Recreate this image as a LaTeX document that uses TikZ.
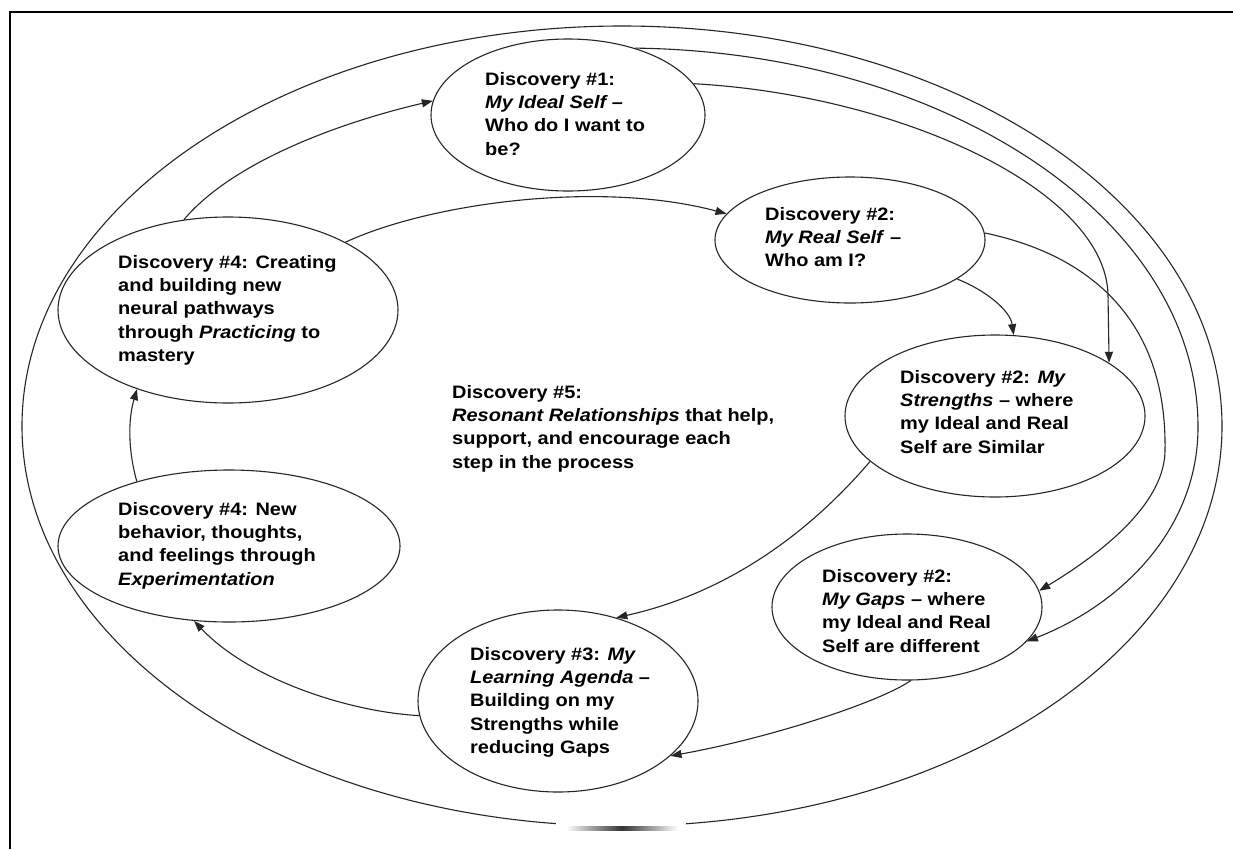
\documentclass[tikz,border=0pt]{standalone}
\usepackage{fontspec}
\setmainfont{Liberation Sans}[FakeStretch=1.11]
\usetikzlibrary{shapes.geometric,arrows.meta}
\tikzset{
  disc/.style={ellipse, draw=black!85, line width=1.1pt, inner sep=0pt},
  txt/.style={anchor=base west, inner sep=0pt, text=black,
    font=\fontsize{18}{23.4}\selectfont\bfseries},
  conn/.style={draw=black!85, line width=1.1pt, -{Triangle[length=11pt,width=8pt]}},
  frameline/.style={line width=2pt, draw=black},
}
\begin{document}
\begin{tikzpicture}[x=1pt,y=-1pt]
\useasboundingbox (0,0) rectangle (1233,849);
\fill[white] (0,0) rectangle (1233,849);
\draw[frameline] (10,849) -- (10,12) -- (1233,12);

% outer ellipse
\node[disc, minimum width=1200pt, minimum height=800pt] (outer) at (622,426) {};

% discovery ellipses
\node[disc, minimum width=274pt, minimum height=152pt] (e1) at (568,115) {};
\node[disc, minimum width=270pt, minimum height=126pt] (e2) at (850,240) {};
\node[disc, minimum width=300pt, minimum height=162pt] (e3) at (995,416) {};
\node[disc, minimum width=270pt, minimum height=146pt] (e4) at (907,607) {};
\node[disc, minimum width=280pt, minimum height=182pt] (e5) at (558,701) {};
\node[disc, minimum width=342pt, minimum height=152pt] (e6) at (229,546) {};
\node[disc, minimum width=340pt, minimum height=186pt] (e7) at (228,310) {};

% texts
\node[txt] (t1) at (485,85) {\vtop{\hbox{Discovery \#1:}\hbox{\itshape My Ideal Self –}\hbox{Who do I want to}\hbox{be?}}};
\node[txt] (t2) at (765,220) {\vtop{\hbox{Discovery \#2:}\hbox{\textit{My Real Self} –}\hbox{Who am I?}}};
\node[txt] (t3) at (900,383) {\vtop{\hbox{Discovery \#2: \textit{My}}\hbox{\textit{Strengths} – where}\hbox{my Ideal and Real}\hbox{Self are Similar}}};
\node[txt] (t4) at (822,582) {\vtop{\hbox{Discovery \#2:}\hbox{\textit{My Gaps} – where}\hbox{my Ideal and Real}\hbox{Self are different}}};
\node[txt] (t5) at (470,660) {\vtop{\hbox{Discovery \#3: \textit{My}}\hbox{\textit{Learning Agenda} –}\hbox{Building on my}\hbox{Strengths while}\hbox{reducing Gaps}}};
\node[txt] (t6) at (118,515) {\vtop{\hbox{Discovery \#4: New}\hbox{behavior, thoughts,}\hbox{and feelings through}\hbox{\textit{Experimentation}}}};
\node[txt] (t7) at (118,268) {\vtop{\hbox{Discovery \#4: Creating}\hbox{and building new}\hbox{neural pathways}\hbox{through \textit{Practicing} to}\hbox{mastery}}};
\node[txt] (t8) at (452,398) {\vtop{\hbox{Discovery \#5:}\hbox{\textit{Resonant Relationships} that help,}\hbox{support, and encourage each}\hbox{step in the process}}};

% connectors
\draw[conn] (e7.116) .. controls (230,165) and (330,125) .. (e1.174);
\draw[conn] (e7.30) .. controls (430,203) and (600,180) .. (e2.168);
\draw[conn] (e2.-20) .. controls (985,290) and (1010,310) .. (e3.77);
\coordinate (a1) at (1108,295);
\draw[conn] (e1.14) .. controls (900,95) and (1106,190) .. (a1) -- (e3.25);
\coordinate (c1) at (1165,450);
\draw[conn] (e2.3) .. controls (1090,255) and (1167,320) .. (c1) .. controls (1165,500) and (1110,548) .. (e4.7);
\coordinate (b1) at (1198,427);
\draw[conn] (e1.45) .. controls (945,52) and (1198,218) .. (b1) .. controls (1198,530) and (1120,605) .. (e4.-16);
\draw[conn] (e3.200) .. controls (820,520) and (740,590) .. (e5.55);
\draw[conn] (e4.-87) .. controls (880,702) and (770,738) .. (e5.-26);
\draw[conn] (e5.186) .. controls (350,712) and (250,680) .. (e6.245);
\draw[conn] (e6.145) .. controls (128,450) and (128,420) .. (e7.221);

% scan artefact at the bottom of the outer ellipse
\fill[white] (556,820) rectangle (686,833);
\shade[left color=white, right color=white, middle color=black!80] (566,826) rectangle (678,830);
\end{tikzpicture}
\end{document}
